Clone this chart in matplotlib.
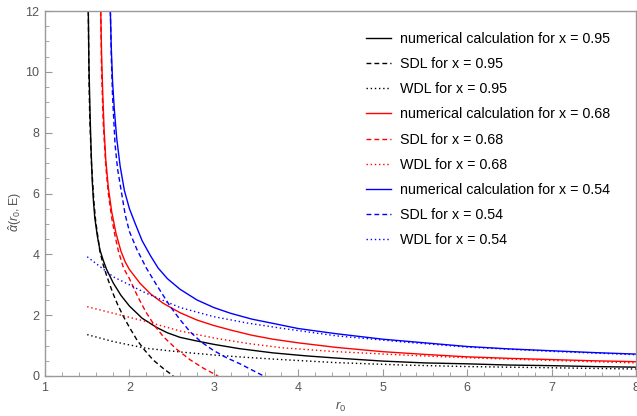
import matplotlib
matplotlib.use("Agg")
import matplotlib.pyplot as plt
from matplotlib.ticker import MultipleLocator

plt.rcParams['font.family'] = ['Liberation Sans', 'DejaVu Sans']
plt.rcParams['mathtext.fontset'] = 'custom'
plt.rcParams['mathtext.rm'] = 'Liberation Sans'
plt.rcParams['mathtext.it'] = 'Liberation Sans:italic'

# ---- data ----
# numerical calculation
r_num_095 = [1.513, 1.52, 1.533, 1.545, 1.56, 1.575, 1.59, 1.62, 1.65, 1.69, 1.73, 1.81, 1.9, 2.0, 2.15,
             2.32, 2.45, 2.6, 2.8, 3.0, 3.3, 3.7, 4.1, 4.45, 5.0, 5.5, 6.0, 6.5, 7.0, 7.5, 8.0]
a_num_095 = [12.0, 10.3, 8.7, 7.5, 6.4, 5.7, 5.2, 4.6, 4.15, 3.8, 3.5, 3.05, 2.65, 2.3, 1.9,
             1.6, 1.42, 1.27, 1.15, 1.04, 0.9, 0.76, 0.66, 0.59, 0.49, 0.43, 0.40, 0.36, 0.34, 0.31, 0.29]

r_num_068 = [1.66, 1.67, 1.685, 1.70, 1.72, 1.75, 1.79, 1.84, 1.9, 1.95, 2.0, 2.125, 2.25, 2.4,
             2.6, 2.8, 3.0, 3.2, 3.45, 3.7, 4.0, 4.45, 5.0, 5.5, 6.0, 6.5, 7.0, 7.5, 8.0]
a_num_068 = [12.0, 10.6, 9.2, 8.1, 7.1, 6.2, 5.4, 4.7, 4.1, 3.75, 3.5, 3.05, 2.7, 2.39,
             2.08, 1.84, 1.66, 1.51, 1.34, 1.21, 1.09, 0.94, 0.80, 0.71, 0.63, 0.58, 0.54, 0.50, 0.47]

r_num_054 = [1.774, 1.785, 1.80, 1.82, 1.85, 1.89, 1.94, 2.0, 2.07, 2.15, 2.25, 2.34, 2.45, 2.6, 2.8, 3.0,
             3.2, 3.45, 3.7, 4.0, 4.45, 5.0, 5.5, 6.0, 6.5, 7.0, 7.5, 8.0]
a_num_054 = [12.0, 10.8, 9.7, 8.8, 7.8, 6.9, 6.1, 5.5, 5.0, 4.45, 3.95, 3.55, 3.2, 2.85, 2.5, 2.25,
             2.06, 1.87, 1.73, 1.56, 1.39, 1.21, 1.09, 0.97, 0.89, 0.83, 0.77, 0.72]

# strong deflection limit
r_sdl_095 = [1.513, 1.52, 1.53, 1.55, 1.58, 1.6, 1.65, 1.69, 1.73, 1.8, 1.86, 1.93, 2.0, 2.09, 2.18, 2.28, 2.4, 2.52]
a_sdl_095 = [12.0, 9.9, 8.5, 7.0, 5.7, 5.1, 4.1, 3.65, 3.3, 2.75, 2.35, 1.95, 1.6, 1.18, 0.85, 0.53, 0.25, 0.0]

r_sdl_068 = [1.66, 1.67, 1.69, 1.72, 1.75, 1.79, 1.83, 1.87, 1.93, 2.0, 2.1, 2.2, 2.3, 2.4, 2.55, 2.72, 2.88, 3.05]
a_sdl_068 = [12.0, 10.0, 8.3, 6.9, 6.0, 5.2, 4.6, 4.1, 3.55, 3.2, 2.6, 2.08, 1.65, 1.3, 0.9, 0.53, 0.25, 0.0]

r_sdl_054 = [1.774, 1.785, 1.80, 1.83, 1.86, 1.89, 1.95, 2.0, 2.09, 2.2, 2.32, 2.48, 2.6, 2.72, 2.85,
             2.99, 3.15, 3.31, 3.45, 3.59]
a_sdl_054 = [12.0, 10.5, 9.2, 7.6, 6.8, 6.3, 5.3, 4.75, 4.15, 3.55, 3.0, 2.3, 1.85, 1.45, 1.12,
             0.85, 0.6, 0.4, 0.2, 0.0]

# weak deflection limit
r_wdl = [1.5, 1.81, 2.2, 2.6, 3.0, 3.4, 3.8, 4.45, 5.24, 6.0, 7.0, 8.0]
a_wdl_095 = [1.36, 1.13, 0.91, 0.79, 0.69, 0.61, 0.54, 0.44, 0.36, 0.31, 0.27, 0.23]
a_wdl_068 = [2.28, 2.06, 1.79, 1.48, 1.25, 1.07, 0.93, 0.80, 0.69, 0.60, 0.51, 0.43]
a_wdl_054 = [3.92, 3.26, 2.72, 2.25, 1.95, 1.74, 1.57, 1.32, 1.12, 0.95, 0.81, 0.70]

x_ticks = [1, 2, 3, 4, 5, 6, 7, 8]
y_ticks = [0, 2, 4, 6, 8, 10, 12]

# ---- figure ----
fig = plt.figure(figsize=(6.37, 4.16), dpi=100)
ax = fig.add_axes([45 / 637, 1 - 376 / 416, 591 / 637, 365 / 416])

lw = 1.0
dash = (0, (3.5, 2.2))
dot = (0, (1, 2))

ax.plot(r_num_095, a_num_095, color='black', lw=lw, label='numerical calculation for x = 0.95')
ax.plot(r_sdl_095, a_sdl_095, color='black', lw=lw, ls=dash, label='SDL for x = 0.95')
ax.plot(r_wdl, a_wdl_095, color='black', lw=lw, ls=dot, label='WDL for x = 0.95')
ax.plot(r_num_068, a_num_068, color='red', lw=lw, label='numerical calculation for x = 0.68')
ax.plot(r_sdl_068, a_sdl_068, color='red', lw=lw, ls=dash, label='SDL for x = 0.68')
ax.plot(r_wdl, a_wdl_068, color='red', lw=lw, ls=dot, label='WDL for x = 0.68')
ax.plot(r_num_054, a_num_054, color='blue', lw=lw, label='numerical calculation for x = 0.54')
ax.plot(r_sdl_054, a_sdl_054, color='blue', lw=lw, ls=dash, label='SDL for x = 0.54')
ax.plot(r_wdl, a_wdl_054, color='blue', lw=lw, ls=dot, label='WDL for x = 0.54')

ax.set_xlim(1, 8)
ax.set_ylim(0, 12)
ax.set_xticks(x_ticks)
ax.set_yticks(y_ticks)
ax.xaxis.set_minor_locator(MultipleLocator(0.2))
ax.yaxis.set_minor_locator(MultipleLocator(0.5))

grey = '#999999'
for s in ax.spines.values():
    s.set_color(grey)
    s.set_linewidth(1.0)
ax.tick_params(which='both', direction='in', color=grey, labelcolor='#555555',
               labelsize=9, top=False, right=False)
ax.tick_params(which='major', length=5, width=0.8, pad=4)
ax.tick_params(which='minor', length=3, width=0.6)

ax.set_xlabel(r'$r_0$', color='#555555', fontsize=9.5, va='top')
ax.set_ylabel(r'$\hat{\alpha}(r_0,\mathrm{E})$', color='#555555', fontsize=9)
ax.xaxis.set_label_coords(0.5, -0.066)
ax.yaxis.set_label_coords(-0.036, 0.45)

ax.legend(loc='upper left', bbox_to_anchor=((366 - 45) / 591, (376 - 32) / 365),
          frameon=False, fontsize=10.3, handlelength=1.75, handletextpad=0.63,
          labelspacing=0.78, borderpad=0, borderaxespad=0)

fig.savefig('out.png', dpi=100)
